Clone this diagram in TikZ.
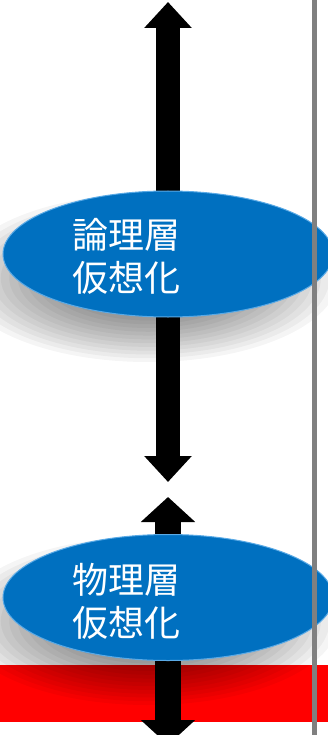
\documentclass[tikz,border=0pt]{standalone}
\usepackage{fontspec}
\newfontfamily\jp{Noto Sans CJK JP}
\usetikzlibrary{arrows.meta,shapes.geometric}
\definecolor{ellblue}{RGB}{0,112,192}
\definecolor{rimblue}{RGB}{90,170,230}
\definecolor{sepgray}{RGB}{128,128,128}
\tikzset{
  layer/.style={ellipse, fill=ellblue, draw=rimblue, line width=1pt,
    minimum width=330pt, minimum height=126pt, inner sep=0pt},
  layershadow/.style={fill=black, fill opacity=0.038},
  layertext/.style={font=\jp\fontsize{36}{43}\selectfont, text=white, align=left, inner sep=0pt},
  bigarrow/.style={line width=24pt,
    {Triangle[width=46pt,length=26pt]}-{Triangle[width=46pt,length=26pt]}},
  bigarrowb/.style={line width=26pt,
    {Triangle[width=53pt,length=25pt]}-{Triangle[width=53pt,length=25pt]}}
}
\begin{document}
\begin{tikzpicture}[x=1pt,y=-1pt]
\clip (0,0) rectangle (328,735);
\fill[white] (0,0) rectangle (328,735);
% red band
\fill[red] (0,665) rectangle (328,722);
% arrows
\coordinate (t1) at (168,2);
\coordinate (b1) at (168,482);
\coordinate (t2) at (168,497);
\coordinate (b2) at (168,745);
\draw[bigarrow] (t1) -- (b1);
\draw[bigarrowb] (t2) -- (b2);
% soft shadows
\foreach \cy in {278,621}{
  \foreach \i in {0,...,19}{
    \pgfmathsetmacro{\rr}{1-0.045*\i}
    \fill[layershadow] (148,\cy) ellipse [x radius={190*\rr}, y radius={84*\rr}];
  }
}
% ellipses
\node[layer] (logical) at (168,254) {};
\node[layertext] (logicaltext) at (126.5,256.5) {論理層\\仮想化};
\node[layer] (physical) at (168,597.5) {};
\node[layertext] (physicaltext) at (126.5,601.5) {物理層\\仮想化};
% separator line
\coordinate (s1) at (314.5,0);
\coordinate (s2) at (314.5,735);
\draw[sepgray, line width=5pt] (s1) -- (s2);
\end{tikzpicture}
\end{document}
